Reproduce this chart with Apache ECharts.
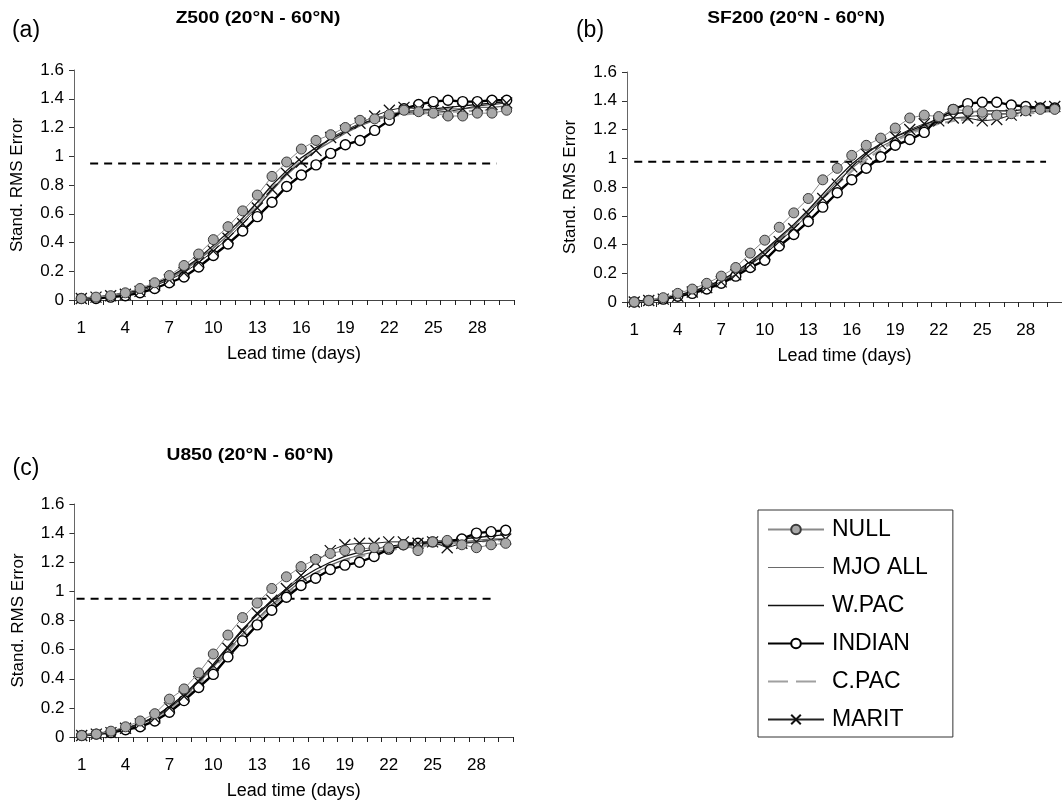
<!DOCTYPE html>
<html>
<head>
<meta charset="utf-8">
<script src="https://cdn.jsdelivr.net/npm/echarts@6/dist/echarts.min.js"></script>
<style>
html,body{margin:0;padding:0;background:#fff;}
#chart{width:1062px;height:810px;}
</style>
</head>
<body>
<div id="chart"></div>
<script>
// ---------- data ----------
const days = ['1','2','3','4','5','6','7','8','9','10','11','12','13','14','15','16','17','18','19','20','21','22','23','24','25','26','27','28','29','30'];
const yTicks = [0, 0.2, 0.4, 0.6, 0.8, 1, 1.2, 1.4, 1.6];
const seriesNames = ['NULL', 'MJO ALL', 'W.PAC', 'INDIAN', 'C.PAC', 'MARIT'];
const panelTitles = ['Z500 (20°N - 60°N)', 'SF200 (20°N - 60°N)', 'U850 (20°N - 60°N)'];
const panelLetters = ['(a)', '(b)', '(c)'];
const xAxisName = 'Lead time (days)';
const yAxisName = 'Stand. RMS Error';

// Panel (a) Z500
const nullA   = [0.01,0.02,0.03,0.05,0.08,0.12,0.17,0.24,0.32,0.42,0.51,0.62,0.73,0.86,0.96,1.05,1.11,1.15,1.20,1.25,1.26,1.29,1.32,1.31,1.30,1.28,1.28,1.30,1.30,1.32];
const mjoA    = [0.01,0.02,0.03,0.05,0.07,0.11,0.15,0.21,0.28,0.36,0.45,0.55,0.65,0.76,0.87,0.96,1.04,1.10,1.16,1.21,1.25,1.28,1.30,1.31,1.32,1.33,1.33,1.34,1.34,1.35];
const wpacA   = [0.01,0.02,0.03,0.05,0.07,0.11,0.16,0.22,0.29,0.38,0.47,0.57,0.68,0.80,0.90,0.99,1.06,1.12,1.17,1.22,1.26,1.29,1.31,1.32,1.33,1.34,1.35,1.36,1.37,1.38];
const indianA = [0.01,0.01,0.02,0.03,0.05,0.08,0.12,0.16,0.23,0.31,0.39,0.48,0.58,0.68,0.79,0.87,0.94,1.02,1.08,1.11,1.18,1.25,1.33,1.36,1.38,1.39,1.38,1.38,1.39,1.39];
const cpacA   = [0.01,0.02,0.03,0.05,0.07,0.11,0.15,0.21,0.28,0.37,0.46,0.56,0.67,0.78,0.88,0.97,1.05,1.11,1.17,1.22,1.26,1.28,1.29,1.30,1.30,1.31,1.31,1.32,1.32,1.33];
const maritA  = [0.01,0.02,0.03,0.04,0.06,0.10,0.14,0.19,0.26,0.34,0.43,0.53,0.64,0.77,0.88,0.96,1.04,1.13,1.18,1.23,1.28,1.32,1.34,1.33,1.32,1.31,1.33,1.35,1.36,1.37];
const threshA = [[1.6, 0.95], [29.3, 0.95]];

// Panel (b) SF200
const nullB   = [0.00,0.01,0.03,0.06,0.09,0.13,0.18,0.24,0.34,0.43,0.52,0.62,0.72,0.85,0.93,1.02,1.09,1.14,1.21,1.28,1.30,1.29,1.34,1.33,1.32,1.30,1.31,1.33,1.34,1.34];
const mjoB    = [0.00,0.01,0.02,0.05,0.07,0.10,0.15,0.20,0.27,0.35,0.44,0.53,0.63,0.73,0.84,0.93,1.01,1.08,1.13,1.18,1.22,1.26,1.28,1.29,1.30,1.31,1.31,1.32,1.33,1.33];
const wpacB   = [0.00,0.01,0.02,0.05,0.07,0.11,0.15,0.21,0.28,0.36,0.45,0.54,0.64,0.75,0.86,0.96,1.04,1.10,1.15,1.19,1.23,1.28,1.31,1.32,1.33,1.33,1.33,1.34,1.35,1.35];
const indianB = [0.00,0.01,0.02,0.04,0.06,0.09,0.13,0.18,0.24,0.29,0.39,0.47,0.56,0.66,0.76,0.85,0.93,1.01,1.09,1.13,1.18,1.28,1.34,1.38,1.39,1.39,1.37,1.36,1.35,1.35];
const cpacB   = [0.00,0.01,0.02,0.04,0.07,0.10,0.14,0.20,0.26,0.34,0.43,0.52,0.62,0.72,0.82,0.91,0.99,1.06,1.12,1.17,1.21,1.24,1.26,1.27,1.27,1.28,1.29,1.31,1.32,1.33];
const maritB  = [0.00,0.01,0.02,0.04,0.07,0.10,0.14,0.19,0.26,0.33,0.42,0.51,0.61,0.72,0.82,0.94,1.03,1.10,1.15,1.20,1.24,1.26,1.28,1.28,1.26,1.27,1.30,1.33,1.36,1.36];
const threshB = [[1.0, 0.975], [29.4, 0.975]];

// Panel (c) U850
const nullC   = [0.01,0.02,0.04,0.07,0.11,0.16,0.26,0.33,0.44,0.57,0.70,0.82,0.92,1.02,1.10,1.17,1.22,1.26,1.28,1.29,1.30,1.30,1.32,1.28,1.34,1.35,1.32,1.30,1.32,1.33];
const mjoC    = [0.01,0.02,0.04,0.06,0.09,0.14,0.20,0.28,0.37,0.48,0.59,0.71,0.81,0.91,0.99,1.07,1.13,1.18,1.22,1.25,1.27,1.29,1.31,1.32,1.33,1.34,1.34,1.35,1.36,1.36];
const wpacC   = [0.01,0.02,0.04,0.06,0.09,0.14,0.21,0.29,0.39,0.50,0.62,0.74,0.84,0.93,1.01,1.09,1.15,1.20,1.24,1.27,1.29,1.31,1.32,1.33,1.34,1.35,1.36,1.37,1.38,1.39];
const indianC = [0.01,0.02,0.03,0.05,0.07,0.11,0.17,0.25,0.34,0.43,0.55,0.66,0.77,0.87,0.96,1.04,1.09,1.15,1.18,1.20,1.24,1.29,1.32,1.33,1.34,1.34,1.36,1.40,1.41,1.42];
const cpacC   = [0.01,0.02,0.04,0.06,0.09,0.13,0.19,0.27,0.36,0.47,0.58,0.70,0.80,0.90,0.98,1.06,1.12,1.17,1.21,1.24,1.26,1.28,1.30,1.31,1.32,1.33,1.33,1.34,1.35,1.35];
const maritC  = [0.01,0.02,0.03,0.06,0.09,0.13,0.20,0.28,0.38,0.49,0.61,0.73,0.85,0.94,1.02,1.11,1.20,1.28,1.32,1.33,1.33,1.34,1.34,1.33,1.34,1.30,1.33,1.34,1.35,1.36];
const threshC = [[0.65, 0.95], [29.1, 0.95]];

// ---------- layout / styles ----------
const panels = [
  {data: {'NULL': nullA, 'MJO ALL': mjoA, 'W.PAC': wpacA, 'INDIAN': indianA, 'C.PAC': cpacA, 'MARIT': maritA}, thresh: threshA,
   grid: {left: 74, top: 70, width: 440, height: 230}, title: [258, 19], letter: [26, 31]},
  {data: {'NULL': nullB, 'MJO ALL': mjoB, 'W.PAC': wpacB, 'INDIAN': indianB, 'C.PAC': cpacB, 'MARIT': maritB}, thresh: threshB,
   grid: {left: 627, top: 72, width: 441, height: 230}, title: [796, 19], letter: [590, 31]},
  {data: {'NULL': nullC, 'MJO ALL': mjoC, 'W.PAC': wpacC, 'INDIAN': indianC, 'C.PAC': cpacC, 'MARIT': maritC}, thresh: threshC,
   grid: {left: 74.4, top: 504, width: 438.6, height: 233}, title: [250, 456], letter: [26, 469]}
];

const FONT = 'Arial, "Liberation Sans", sans-serif';
const crossPath = 'path://M0,0L10,10M10,0L0,10';

const styleOf = {
  'NULL':    {z: 8, lineStyle: {color: '#8a8a8a', width: 1}, symbol: 'circle', symbolSize: 10,
              itemStyle: {color: '#a8a8a8', borderColor: '#3a3a3a', borderWidth: 1}},
  'MJO ALL': {z: 3, lineStyle: {color: '#6a6a6a', width: 1.2}, symbol: 'none', itemStyle: {color: '#6a6a6a'}},
  'W.PAC':   {z: 4, lineStyle: {color: '#111', width: 1.3}, symbol: 'none', itemStyle: {color: '#111'}},
  'INDIAN':  {z: 6, lineStyle: {color: '#000', width: 2.4}, symbol: 'circle', symbolSize: 10,
              itemStyle: {color: '#fff', borderColor: '#000', borderWidth: 1.4}},
  'C.PAC':   {z: 2, lineStyle: {color: '#a0a0a0', width: 2.2, type: [10, 6]}, symbol: 'none', itemStyle: {color: '#a0a0a0'}},
  'MARIT':   {z: 7, lineStyle: {color: '#222', width: 1}, symbol: crossPath, symbolSize: 11,
              itemStyle: {color: 'rgba(0,0,0,0)', borderColor: '#111', borderWidth: 1.3}}
};
const drawOrder = ['C.PAC', 'MJO ALL', 'W.PAC', 'INDIAN', 'MARIT', 'NULL'];

// legend entries: line-only series get an invisible marker in the legend
const noMarker = {color: 'rgba(0,0,0,0)', borderColor: 'rgba(0,0,0,0)', borderWidth: 0};
const legendData = seriesNames.map(name => {
  const s = styleOf[name];
  if (s.symbol === 'none') {
    const ls = {color: s.lineStyle.color, width: s.lineStyle.width};
    if (name === 'C.PAC') { ls.type = [20, 8]; ls.width = 2; }
    return {name: name, itemStyle: noMarker, lineStyle: ls};
  }
  return {name: name};
});

const grids = [], xAxes = [], yAxes = [], series = [], graphics = [];

panels.forEach((p, i) => {
  grids.push(Object.assign({containLabel: false}, p.grid));
  xAxes.push({
    type: 'category', gridIndex: i, data: days, boundaryGap: true,
    name: xAxisName, nameLocation: 'middle', nameGap: 45,
    nameTextStyle: {fontFamily: FONT, fontSize: 18, color: '#000'},
    axisLine: {lineStyle: {color: '#444', width: 1.2}},
    axisTick: {show: true, interval: 0, length: 5, lineStyle: {color: '#222'}},
    axisLabel: {interval: 2, fontFamily: FONT, fontSize: 17, color: '#000', margin: 20},
    splitLine: {show: false}
  });
  xAxes.push({
    type: 'value', gridIndex: i, min: 0.5, max: 30.5, show: false, splitLine: {show: false}
  });
  yAxes.push({
    type: 'value', gridIndex: i, min: yTicks[0], max: yTicks[yTicks.length - 1], interval: 0.2,
    name: yAxisName, nameLocation: 'middle', nameGap: 48,
    nameTextStyle: {fontFamily: FONT, fontSize: 17, color: '#000'},
    axisLine: {show: true, lineStyle: {color: '#666', width: 1}},
    axisTick: {show: true, length: 5, lineStyle: {color: '#333'}},
    axisLabel: {fontFamily: FONT, fontSize: 17, color: '#000', margin: 10},
    splitLine: {show: false}
  });
  drawOrder.forEach(name => {
    const s = styleOf[name];
    series.push({
      name: name, type: 'line', xAxisIndex: 2 * i, yAxisIndex: i,
      data: p.data[name], showAllSymbol: true, showSymbol: s.symbol !== 'none',
      symbol: s.symbol, symbolSize: s.symbolSize || 0, z: s.z,
      lineStyle: s.lineStyle, itemStyle: s.itemStyle, animation: false,
      emphasis: {disabled: true}
    });
  });
  series.push({
    name: 'threshold', type: 'line', xAxisIndex: 2 * i + 1, yAxisIndex: i,
    data: p.thresh, symbol: 'none', z: 1, animation: false,
    lineStyle: {color: '#000', width: 2, type: [8, 6]}
  });
  graphics.push({type: 'text', x: p.title[0], y: p.title[1], scaleX: 1.2,
    style: {text: panelTitles[i], fontFamily: FONT, fontSize: 16, fontWeight: 'bold', fill: '#000',
            textAlign: 'center', textVerticalAlign: 'middle'}});
  graphics.push({type: 'text', x: p.letter[0], y: p.letter[1],
    style: {text: panelLetters[i], fontFamily: FONT, fontSize: 23, fill: '#000',
            textAlign: 'center', textVerticalAlign: 'middle'}});
});

const chart = echarts.init(document.getElementById('chart'), null, {renderer: 'canvas'});
chart.setOption({
  backgroundColor: '#fff',
  animation: false,
  grid: grids,
  xAxis: xAxes,
  yAxis: yAxes,
  series: series,
  graphic: graphics,
  legend: {
    data: legendData, orient: 'vertical', left: 758, top: 510,
    padding: [8, 25, 6, 9], itemGap: 15, itemWidth: 56, itemHeight: 12,
    borderColor: '#333', borderWidth: 1, backgroundColor: '#fff',
    selectedMode: false,
    textStyle: {fontFamily: FONT, fontSize: 23, color: '#000', padding: [0, 0, 0, 3]}
  }
});
</script>
</body>
</html>
